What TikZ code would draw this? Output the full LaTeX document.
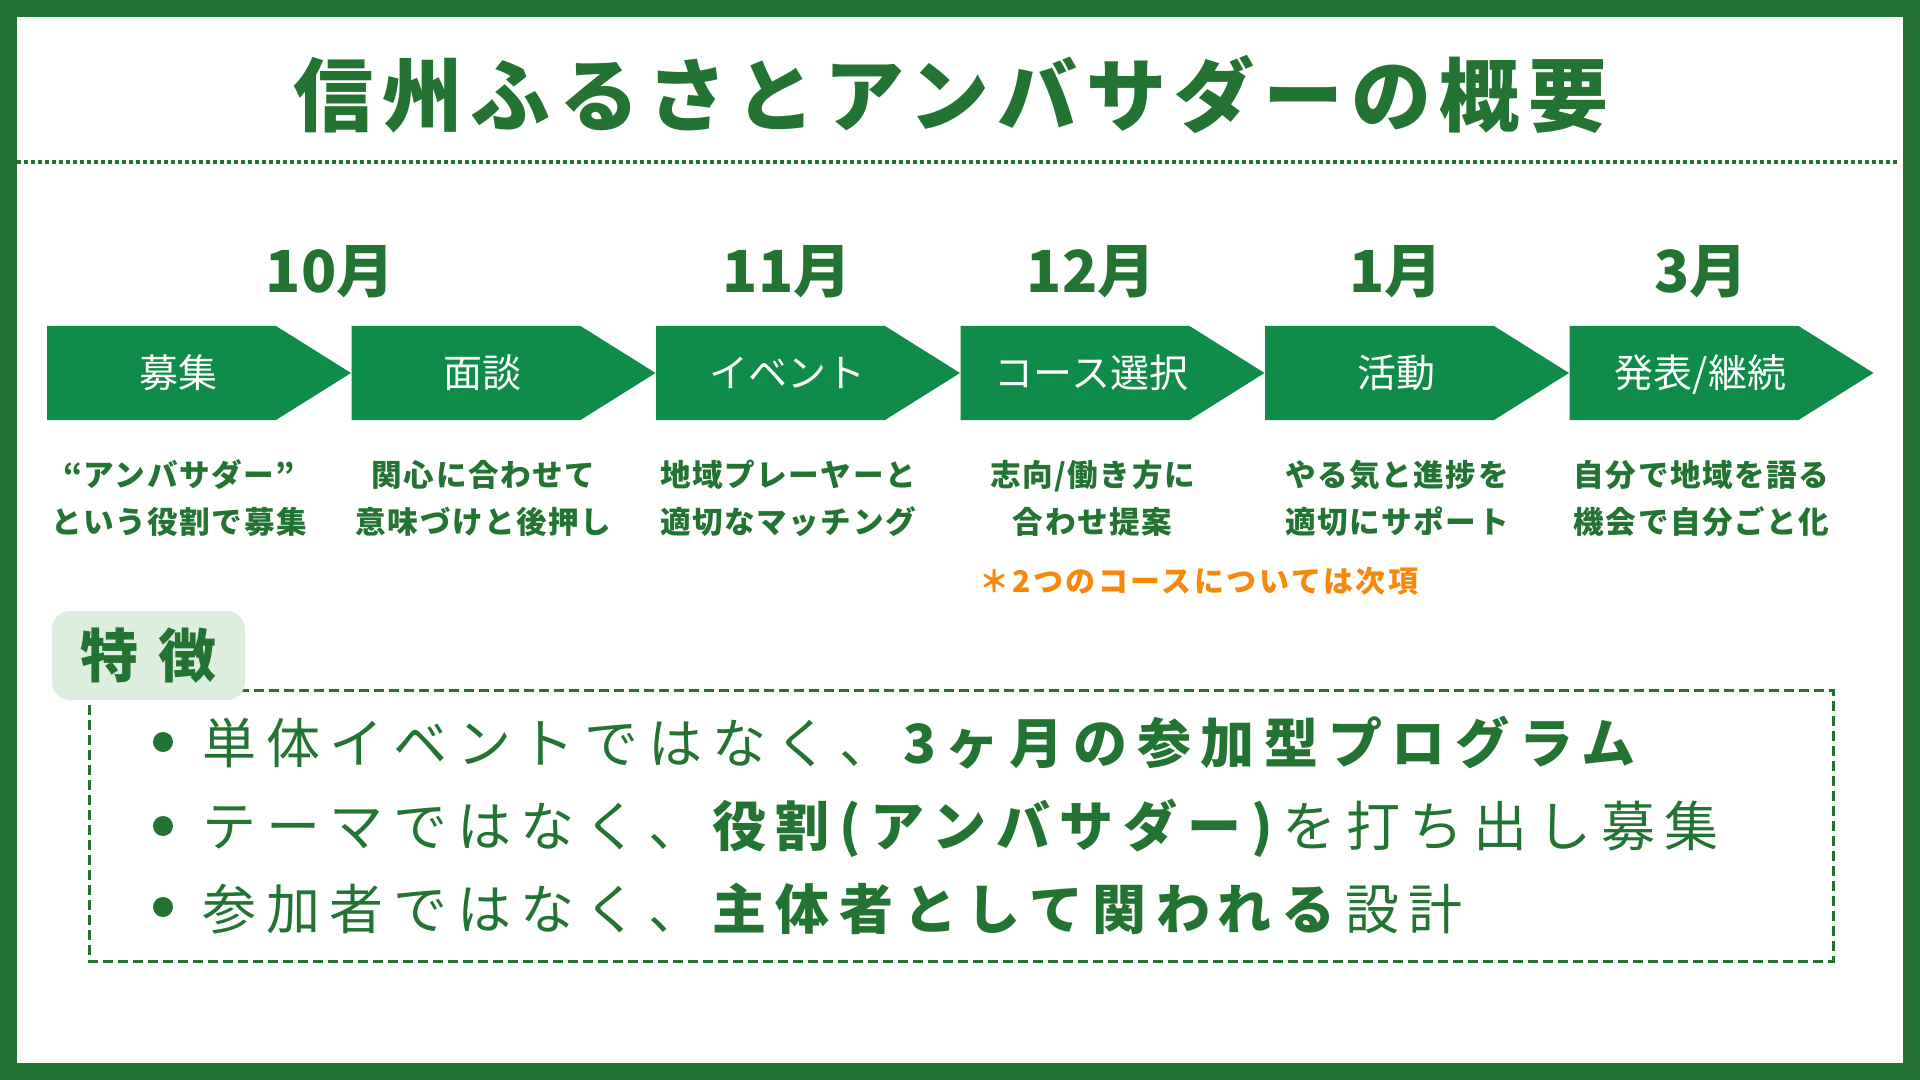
\documentclass[tikz,border=0pt]{standalone}
\usepackage{fontspec}
\setmainfont{Noto Sans CJK JP}
\newfontfamily\jptitle[LetterSpace=10.5]{Noto Sans CJK JP}
\newfontfamily\jpline[LetterSpace=18]{Noto Sans CJK JP}
\newfontfamily\jpdesc[LetterSpace=5]{Noto Sans CJK JP}
\newfontfamily\jpnote[LetterSpace=8.5]{Noto Sans CJK JP}
\definecolor{framegreen}{HTML}{237333}
\definecolor{arrowgreen}{HTML}{0F8C4A}
\definecolor{tagfill}{HTML}{DDEEDF}
\definecolor{noteorange}{HTML}{F7880C}
\tikzset{
  chev/.style={fill=arrowgreen},
  titletext/.style={font=\jptitle\bfseries\fontsize{40}{48}\selectfont, text=framegreen, inner sep=0pt, anchor=base},
  monthtext/.style={font=\bfseries\fontsize{29}{34}\selectfont, text=framegreen, inner sep=0pt, anchor=base},
  chevlabel/.style={font=\fontsize{19.5}{23}\selectfont, text=white, inner sep=0pt, anchor=base},
  desctext/.style={font=\jpdesc\bfseries\fontsize{15.3}{18}\selectfont, text=framegreen, inner sep=0pt, anchor=base},
  notetext/.style={font=\jpnote\bfseries\fontsize{15}{18}\selectfont, text=noteorange, inner sep=0pt, anchor=base},
  tagbox/.style={fill=tagfill, rounded corners=9pt, minimum width=96.5pt, minimum height=44.5pt, inner sep=0pt,
                 font=\bfseries\fontsize{29}{34}\selectfont, text=framegreen},
  dashbox/.style={draw=framegreen, line width=1.5pt, dash pattern=on 5pt off 2.5pt},
  dotline/.style={draw=framegreen, line width=2pt, dash pattern=on 2pt off 1.5pt},
  bulletdot/.style={circle, fill=framegreen, minimum size=10pt, inner sep=0pt},
  linetext/.style={font=\jpline\fontsize{27}{32}\selectfont, text=framegreen, inner sep=0pt, anchor=base west}
}
\newcommand\chevron[1]{\fill[chev] (#1,326) -- ++(229,0) -- ++(75,47) -- ++(-75,47) -- ++(-229,0) -- cycle;}
\begin{document}
\begin{tikzpicture}[x=0.5pt,y=-0.5pt]
\useasboundingbox (0,0) rectangle (1920,1080);
% frame
\fill[framegreen] (0,0) rectangle (1920,1080);
\fill[white] (17,17) rectangle (1903,1063);
% title
\node[titletext] (title) at (951,126) {信州ふるさとアンバサダーの概要};
\coordinate (dl) at (17,162);
\coordinate (dr) at (1897,162);
\draw[dotline] (dl) -- (dr);
% months
\node[monthtext] (m10) at (330,293) {10月};
\node[monthtext] (m11) at (787,293) {11月};
\node[monthtext] (m12) at (1091,293) {12月};
\node[monthtext] (m1) at (1396,293) {1月};
\node[monthtext] (m3) at (1701,293) {3月};
% chevrons
\chevron{47}
\chevron{351.5}
\chevron{656}
\chevron{960.5}
\chevron{1265}
\chevron{1569.5}
\node[chevlabel] (c1) at (178,387) {募集};
\node[chevlabel] (c2) at (482.5,387) {面談};
\node[chevlabel] (c3) at (787,387) {イベント};
\node[chevlabel] (c4) at (1091.5,387) {コース選択};
\node[chevlabel] (c5) at (1396,387) {活動};
\node[chevlabel] (c6) at (1700.5,387) {発表/継続};
% descriptions
\node[desctext] (d1a) at (179,486) {“アンバサダー”};
\node[desctext] (d1b) at (179,533) {という役割で募集};
\node[desctext] (d2a) at (483.5,486) {関心に合わせて};
\node[desctext] (d2b) at (483.5,533) {意味づけと後押し};
\node[desctext] (d3a) at (788,486) {地域プレーヤーと};
\node[desctext] (d3b) at (788,533) {適切なマッチング};
\node[desctext] (d4a) at (1092.5,486) {志向/働き方に};
\node[desctext] (d4b) at (1092.5,533) {合わせ提案};
\node[desctext] (d5a) at (1397,486) {やる気と進捗を};
\node[desctext] (d5b) at (1397,533) {適切にサポート};
\node[desctext] (d6a) at (1701.5,486) {自分で地域を語る};
\node[desctext] (d6b) at (1701.5,533) {機会で自分ごと化};
\node[notetext] (note) at (1199,592) {＊2つのコースについては次項};
% features
\draw[dashbox] (89,690) rectangle (1833,961);
\node[tagbox] (tag) at (148.5,655.5) {特\hspace{10pt}徴};
\node[bulletdot] (b1) at (163,742) {};
\node[bulletdot] (b2) at (163,826) {};
\node[bulletdot] (b3) at (163,907) {};
\node[linetext] (l1) at (202,763) {単体イベントではなく、\textbf{3ヶ月の参加型プログラム}};
\node[linetext] (l2) at (202,846) {テーマではなく、\textbf{役割(アンバサダー)}を打ち出し募集};
\node[linetext] (l3) at (202,929) {参加者ではなく、\textbf{主体者として関われる}設計};
\end{tikzpicture}
\end{document}
